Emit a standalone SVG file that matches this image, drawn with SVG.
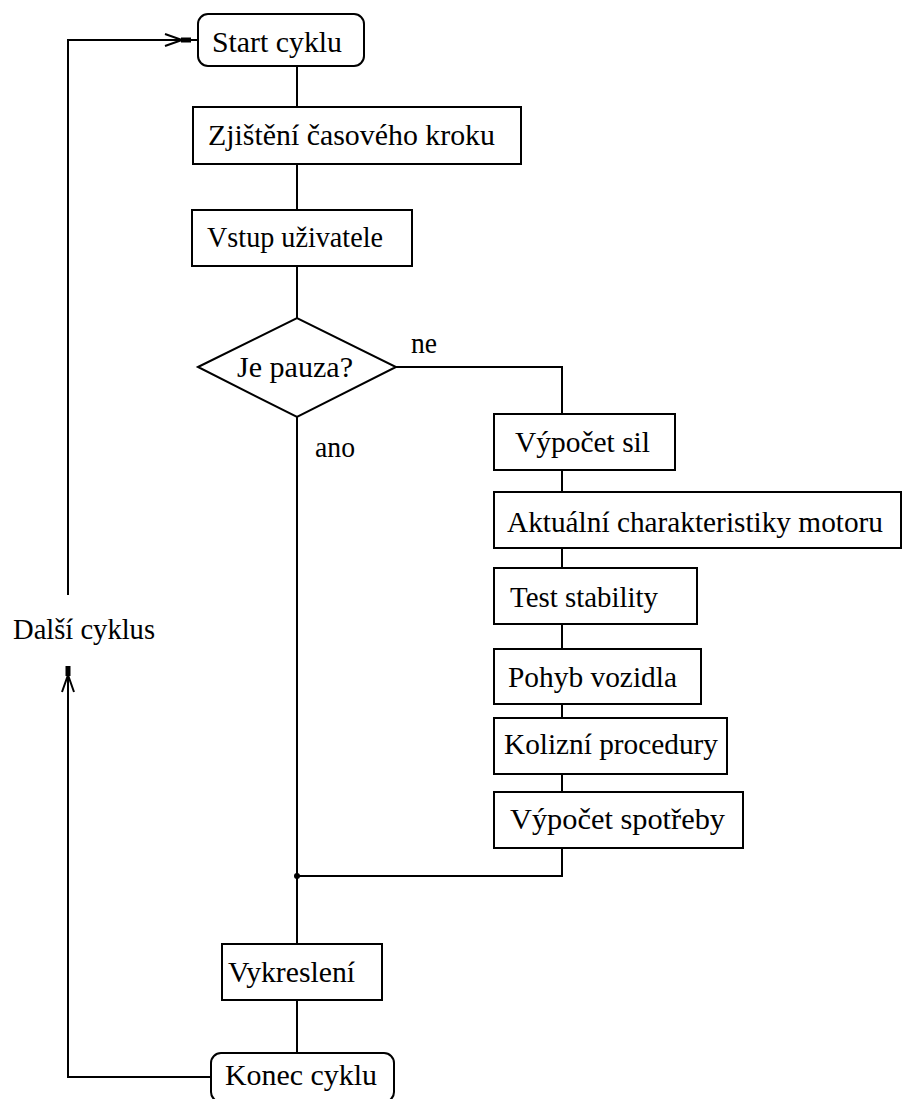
<svg xmlns="http://www.w3.org/2000/svg" width="903" height="1099" viewBox="0 0 903 1099">
<style>
.box{fill:#fff;stroke:#000;stroke-width:2}
.ln{fill:none;stroke:#000;stroke-width:2}
text{font-family:"Liberation Serif","Times New Roman",serif;font-size:30px;fill:#000}
</style>
<defs>
<marker id="arr" markerUnits="userSpaceOnUse" viewBox="-28 -8 30 16" refX="0" refY="0" markerWidth="30" markerHeight="16" orient="auto" overflow="visible">
<rect x="-10" y="-2.5" width="10" height="5" fill="#000"/>
<path d="M-26,-6 L-9,0 L-26,6" fill="none" stroke="#000" stroke-width="2"/>
</marker>
</defs>
<rect width="903" height="1099" fill="#fff"/>
<g id="connectors">
<path class="ln" d="M297,66 V107"/>
<path class="ln" d="M297,164 V210"/>
<path class="ln" d="M297,266 V318"/>
<path class="ln" d="M297,417 V944"/>
<path class="ln" d="M297,1000 V1053"/>
<path class="ln" d="M396,367 H562 V414"/>
<path class="ln" d="M562,470 V492"/>
<path class="ln" d="M562,548 V568"/>
<path class="ln" d="M562,624 V649"/>
<path class="ln" d="M562,704 V718"/>
<path class="ln" d="M562,774 V792"/>
<path class="ln" d="M562,848 V876 H297"/>
<circle cx="297" cy="876" r="3" fill="#000"/>
<path class="ln" d="M211,1077 H68 V666" marker-end="url(#arr)"/>
<path class="ln" d="M68,595 V40 H191" marker-end="url(#arr)"/>
<path class="ln" d="M191,40 H198"/>
<text x="411" y="353" textLength="26" lengthAdjust="spacingAndGlyphs">ne</text>
<text x="315" y="457" textLength="40" lengthAdjust="spacingAndGlyphs">ano</text>
<text x="13" y="639" textLength="142" lengthAdjust="spacingAndGlyphs">Další cyklus</text>
</g>
<g id="start">
<rect class="box" x="198" y="14" width="166" height="52" rx="10"/>
<text x="212" y="52" textLength="130" lengthAdjust="spacingAndGlyphs">Start cyklu</text>
</g>
<g id="zjisteni">
<rect class="box" x="193" y="107" width="328" height="57"/>
<text x="208" y="145" textLength="287" lengthAdjust="spacingAndGlyphs">Zjištění časového kroku</text>
</g>
<g id="vstup">
<rect class="box" x="192" y="210" width="220" height="56"/>
<text x="207" y="247" textLength="176" lengthAdjust="spacingAndGlyphs">Vstup uživatele</text>
</g>
<g id="pauza">
<polygon class="box" points="198,367 297,318 396,367 297,417"/>
<text x="237" y="377" textLength="116" lengthAdjust="spacingAndGlyphs">Je pauza?</text>
</g>
<g id="vypocet-sil">
<rect class="box" x="494" y="414" width="181" height="56"/>
<text x="515" y="452" textLength="135" lengthAdjust="spacingAndGlyphs">Výpočet sil</text>
</g>
<g id="aktualni">
<rect class="box" x="494" y="492" width="407" height="56"/>
<text x="507" y="532" textLength="376" lengthAdjust="spacingAndGlyphs">Aktuální charakteristiky motoru</text>
</g>
<g id="test">
<rect class="box" x="494" y="568" width="203" height="56"/>
<text x="510" y="607" textLength="148" lengthAdjust="spacingAndGlyphs">Test stability</text>
</g>
<g id="pohyb">
<rect class="box" x="494" y="649" width="207" height="55"/>
<text x="508" y="687" textLength="169" lengthAdjust="spacingAndGlyphs">Pohyb vozidla</text>
</g>
<g id="kolizni">
<rect class="box" x="494" y="718" width="233" height="56"/>
<text x="504" y="754" textLength="214" lengthAdjust="spacingAndGlyphs">Kolizní procedury</text>
</g>
<g id="spotreba">
<rect class="box" x="494" y="792" width="249" height="56"/>
<text x="510" y="829" textLength="215" lengthAdjust="spacingAndGlyphs">Výpočet spotřeby</text>
</g>
<g id="vykresleni">
<rect class="box" x="222" y="944" width="160" height="56"/>
<text x="228" y="982" textLength="127" lengthAdjust="spacingAndGlyphs">Vykreslení</text>
</g>
<g id="konec">
<rect class="box" x="211" y="1053" width="183" height="49" rx="10"/>
<text x="225" y="1085" textLength="152" lengthAdjust="spacingAndGlyphs">Konec cyklu</text>
</g>
</svg>
